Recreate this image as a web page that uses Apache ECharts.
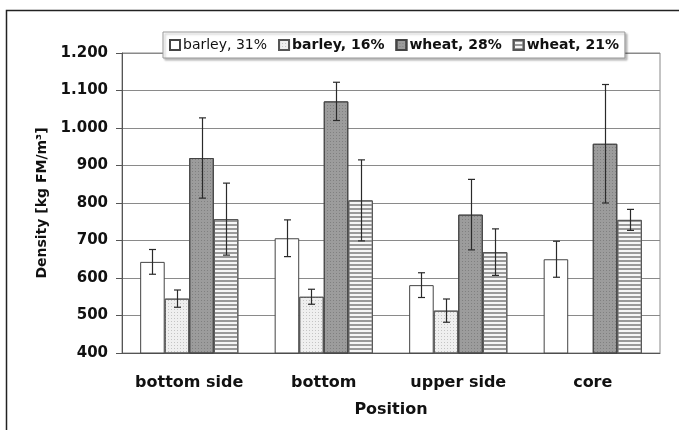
<!DOCTYPE html>
<html>
<head>
<meta charset="utf-8">
<script src="https://cdn.jsdelivr.net/npm/echarts@6/dist/echarts.min.js"></script>
<style>html,body{margin:0;padding:0;background:#fff;}#c{width:679px;height:430px;}</style>
</head>
<body>
<div id="c"></div>
<script>
var categories = ['bottom side', 'bottom', 'upper side', 'core'];
var seriesNames = ['barley, 31%', 'barley, 16%', 'wheat, 28%', 'wheat, 21%'];
var barley31 = [643, 706, 581, 650];
var barley31Err = [33, 49, 33, 48];
var barley16 = [545, 550, 513, null];
var barley16Err = [23, 20, 31, null];
var wheat28 = [920, 1071, 769, 958];
var wheat28Err = [107, 51, 94, 158];
var wheat21 = [757, 807, 669, 755];
var wheat21Err = [96, 108, 62, 28];
var yTicks = [400, 500, 600, 700, 800, 900, 1000, 1100, 1200];

var values = [barley31, barley16, wheat28, wheat21];
var errors = [barley31Err, barley16Err, wheat28Err, wheat21Err];
var CAT_GAP = 0.27;
var FONT = 'DejaVu Sans';

var styles = [
  { color: '#ffffff', borderColor: '#444', borderWidth: 1 },
  { color: '#efefef', borderColor: '#555', borderWidth: 1,
    decal: { symbol: 'rect', symbolSize: 1, dashArrayX: [1, 2], dashArrayY: [1, 2], rotation: 0, color: '#c4c4c4' } },
  { color: '#9c9c9c', borderColor: '#444', borderWidth: 1,
    decal: { symbol: 'rect', symbolSize: 1, dashArrayX: [1, 2], dashArrayY: [1, 2], rotation: 0, color: '#808080' } },
  { color: '#f6f6f6', borderColor: '#555', borderWidth: 1,
    decal: { symbol: 'rect', symbolSize: 1, dashArrayX: [1, 0], dashArrayY: [1.5, 1.5], rotation: 0, color: '#9a9a9a' } }
];

function errData(si) {
  var out = [];
  for (var i = 0; i < categories.length; i++) {
    var v = values[si][i], e = errors[si][i];
    if (v == null || e == null) continue;
    out.push([i, v - e, v + e]);
  }
  return out;
}

function makeErr(si) {
  return function (params, api) {
    var ci = api.value(0);
    var lo = api.coord([ci, api.value(1)]);
    var hi = api.coord([ci, api.value(2)]);
    var band = api.size([1, 0])[0];
    var bw = band * (1 - CAT_GAP) / 4;
    var x = Math.round(lo[0] - 2 * bw + (si + 0.5) * bw) + 0.5;
    var st = { stroke: '#2a2a2a', lineWidth: 1.2 };
    return { type: 'group', children: [
      { type: 'line', shape: { x1: x, y1: hi[1], x2: x, y2: lo[1] }, style: st },
      { type: 'line', shape: { x1: x - 3.5, y1: hi[1], x2: x + 3.5, y2: hi[1] }, style: st },
      { type: 'line', shape: { x1: x - 3.5, y1: lo[1], x2: x + 3.5, y2: lo[1] }, style: st }
    ]};
  };
}

var series = [];
for (var s = 0; s < 4; s++) {
  series.push({
    name: seriesNames[s], type: 'bar', data: values[s],
    barGap: '0%', barCategoryGap: (CAT_GAP * 100) + '%',
    itemStyle: styles[s], emphasis: { disabled: true }, z: 2
  });
}
for (var s2 = 0; s2 < 4; s2++) {
  series.push({
    name: 'err' + s2, type: 'custom', data: errData(s2), renderItem: makeErr(s2),
    encode: { x: 0, y: [1, 2] }, z: 5, silent: true
  });
}

var chart = echarts.init(document.getElementById('c'));
chart.setOption({
  animation: false,
  backgroundColor: '#fff',
  textStyle: { fontFamily: FONT },
  graphic: [{ type: 'rect', shape: { x: 6.5, y: 10.5, width: 700, height: 440 },
    style: { fill: 'none', stroke: '#222', lineWidth: 1.5 }, z: 100 }],
  legend: {
    data: seriesNames, icon: 'rect', left: 163, top: 32, itemWidth: 10, itemHeight: 10, itemGap: 11,
    padding: [6, 6], backgroundColor: '#fff', borderColor: '#999', borderWidth: 1,
    shadowColor: 'rgba(0,0,0,0.25)', shadowBlur: 2, shadowOffsetX: 2, shadowOffsetY: 2,
    textStyle: { fontFamily: FONT, fontSize: 14, color: '#111', padding: [0, 0, 0, -2],
      rich: {
        r: { fontFamily: FONT, fontSize: 14, fontWeight: 'normal', color: '#111' },
        b: { fontFamily: FONT, fontSize: 14, fontWeight: 'bold', color: '#111' }
      } },
    formatter: function (n) { return n === seriesNames[0] ? '{r|' + n + '}' : '{b|' + n + '}'; }
  },
  grid: { left: 122, right: 19, top: 53, bottom: 77, show: true, borderColor: '#888', borderWidth: 1, backgroundColor: 'transparent' },
  xAxis: {
    type: 'category', data: categories,
    name: 'Position', nameLocation: 'middle', nameGap: 49,
    nameTextStyle: { fontFamily: FONT, fontSize: 16, fontWeight: 'bold', color: '#111' },
    axisLine: { lineStyle: { color: '#555' } },
    axisTick: { length: 5, lineStyle: { color: '#555' } },
    axisLabel: { interval: 0, margin: 22, fontFamily: FONT, fontSize: 16, fontWeight: 'bold', color: '#111' }
  },
  yAxis: {
    type: 'value', min: yTicks[0], max: yTicks[yTicks.length - 1], interval: 100,
    name: 'Density [kg FM/m³]', nameLocation: 'middle', nameGap: 70,
    nameTextStyle: { fontFamily: FONT, fontSize: 14, fontWeight: 'bold', color: '#111' },
    axisLine: { show: true, lineStyle: { color: '#555' } },
    axisTick: { show: true, length: 6, lineStyle: { color: '#555' } },
    splitLine: { lineStyle: { color: '#8a8a8a', width: 1 } },
    axisLabel: { margin: 14, fontFamily: FONT, fontSize: 15, fontWeight: 'bold', color: '#111',
      formatter: function (v) { return v >= 1000 ? Math.floor(v / 1000) + '.' + String(v % 1000).padStart(3, '0') : String(v); } }
  },
  series: series
});
</script>
</body>
</html>
